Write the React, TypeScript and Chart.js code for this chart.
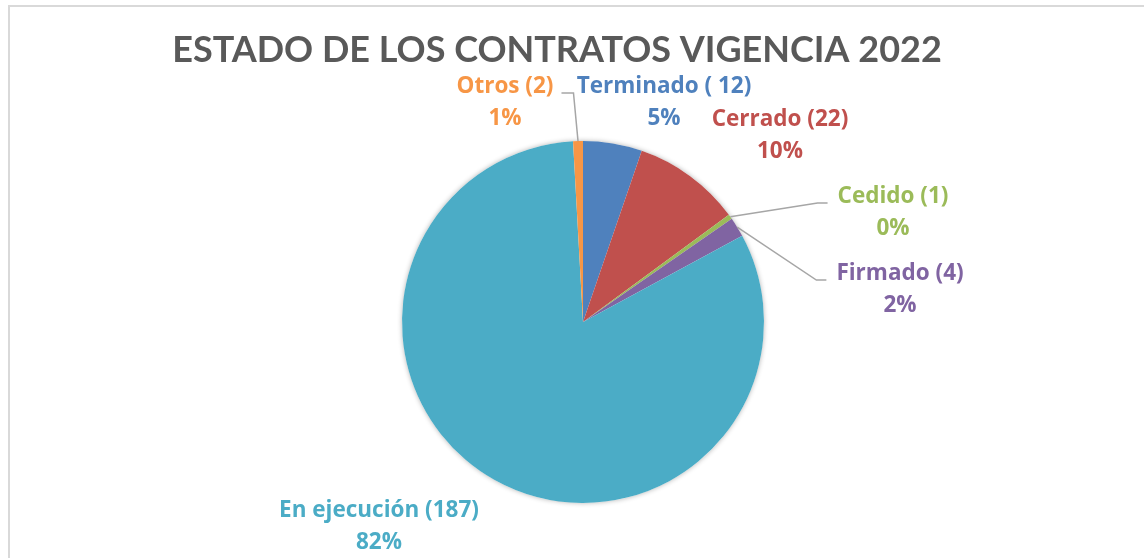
import React, { useEffect, useRef } from "react";
import { Chart, registerables } from "chart.js";

Chart.register(...registerables);

const titleText = "ESTADO DE LOS CONTRATOS VIGENCIA 2022";
const categories = [
  "Terminado ( 12)",
  "Cerrado (22)",
  "Cedido (1)",
  "Firmado (4)",
  "En ejecución (187)",
  "Otros (2)",
];
const counts = [12, 22, 1, 4, 187, 2];
const sliceColors = ["#4F81BD", "#C0504D", "#9BBB59", "#8064A2", "#4BACC6", "#F79646"];

// label placement: first-line baseline relative to pie centre (px)
const labelOffsets: [number, number][] = [
  [81, -229],
  [197, -196],
  [310, -119],
  [317, -42],
  [-204, 195],
  [-78, -229],
];
const showLeader = [false, false, true, true, false, true];

const TITLE_FONT = "Lato, 'Open Sans', sans-serif";
const LABEL_FONT = "'Open Sans', Lato, sans-serif";

const excelPlugin = {
  id: "excelDecor",
  beforeDraw(chart: any) {
    const ctx = chart.ctx as CanvasRenderingContext2D;
    ctx.save();
    ctx.fillStyle = "#FFFFFF";
    ctx.fillRect(0, 0, chart.width, chart.height);
    ctx.strokeStyle = "#D9D9D9";
    ctx.lineWidth = 2;
    ctx.beginPath();
    ctx.moveTo(9, chart.height);
    ctx.lineTo(9, 6);
    ctx.lineTo(chart.width, 6);
    ctx.stroke();
    ctx.fillStyle = "#595959";
    ctx.font = `bold 36px ${TITLE_FONT}`;
    ctx.textAlign = "center";
    ctx.textBaseline = "alphabetic";
    ctx.fillText(titleText, 557, 62);
    ctx.restore();
  },
  beforeDatasetsDraw(chart: any) {
    const ctx = chart.ctx as CanvasRenderingContext2D;
    const el = chart.getDatasetMeta(0).data[0];
    if (!el) return;
    ctx.save();
    ctx.shadowColor = "rgba(0,0,0,0.3)";
    ctx.shadowBlur = 5;
    ctx.fillStyle = "#FFFFFF";
    ctx.beginPath();
    ctx.arc(el.x, el.y, el.outerRadius, 0, Math.PI * 2);
    ctx.fill();
    ctx.restore();
  },
  afterDatasetsDraw(chart: any) {
    const ctx = chart.ctx as CanvasRenderingContext2D;
    const meta = chart.getDatasetMeta(0);
    const total = counts.reduce((a, b) => a + b, 0);
    ctx.save();
    ctx.font = `bold 22.5px ${LABEL_FONT}`;
    ctx.textAlign = "center";
    ctx.textBaseline = "alphabetic";
    meta.data.forEach((el: any, i: number) => {
      const { x, y, startAngle, endAngle, outerRadius } = el;
      const mid = (startAngle + endAngle) / 2;
      const ax = x + Math.cos(mid) * outerRadius;
      const ay = y + Math.sin(mid) * outerRadius;
      const lx = x + labelOffsets[i][0];
      const ly = y + labelOffsets[i][1];
      const pct = Math.round((counts[i] / total) * 100) + "%";
      const w = ctx.measureText(categories[i]).width;
      ctx.fillStyle = sliceColors[i];
      ctx.fillText(categories[i], lx, ly);
      ctx.fillText(pct, lx, ly + 32);
      if (showLeader[i]) {
        const toRight = lx > ax;
        const ex = toRight ? lx - w / 2 - 10 : lx + w / 2 + 8;
        const bx = toRight ? ex - 10 : ex + 12;
        ctx.strokeStyle = "#A6A6A6";
        ctx.lineWidth = 1.5;
        ctx.beginPath();
        ctx.moveTo(ax, ay);
        ctx.lineTo(bx, ly);
        ctx.lineTo(ex, ly);
        ctx.stroke();
      }
    });
    ctx.restore();
  },
};

export default function App() {
  const canvasRef = useRef<HTMLCanvasElement | null>(null);
  useEffect(() => {
    if (!canvasRef.current) return;
    const chart = new Chart(canvasRef.current, {
      type: "pie",
      data: {
        labels: categories,
        datasets: [
          {
            data: counts,
            backgroundColor: sliceColors,
            borderWidth: 0,
          },
        ],
      },
      options: {
        animation: false,
        responsive: true,
        maintainAspectRatio: false,
        layout: { padding: { left: 402, right: 380, top: 141, bottom: 55 } },
        plugins: {
          legend: { display: false },
          tooltip: { enabled: false },
          title: { display: false },
        },
      },
      plugins: [excelPlugin],
    });
    return () => chart.destroy();
  }, []);
  return (
    <div style={{ position: "fixed", left: 0, top: 0, width: 1144, height: 558 }}>
      <canvas ref={canvasRef} />
    </div>
  );
}
